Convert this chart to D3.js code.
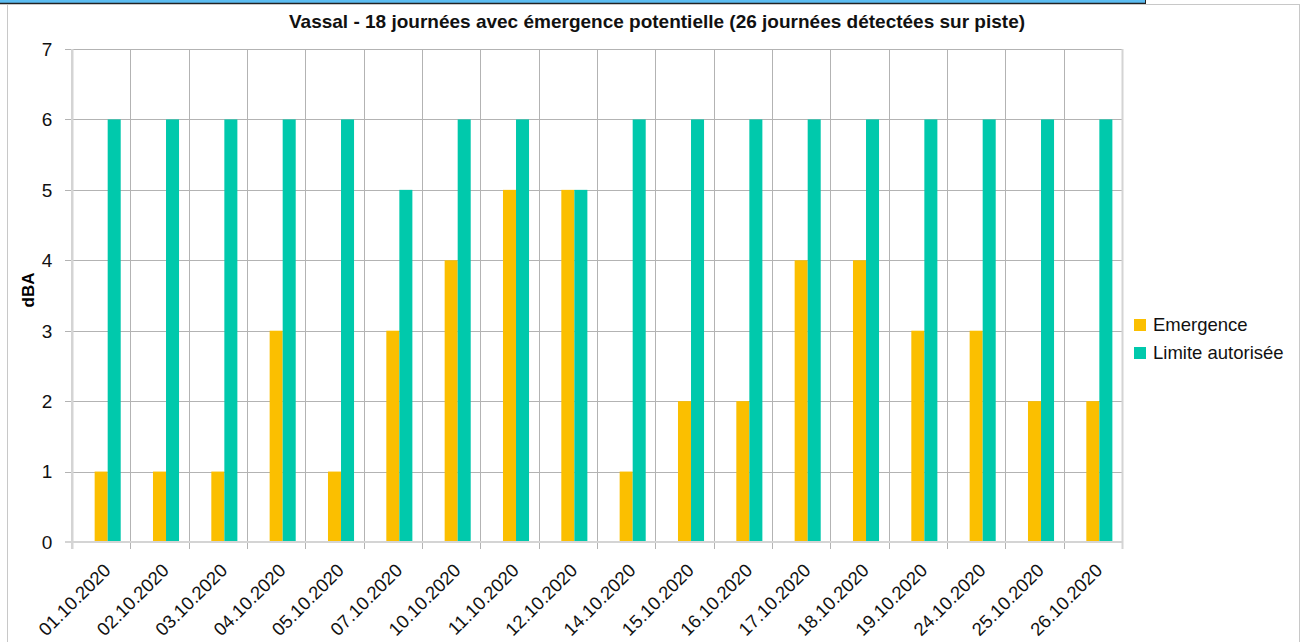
<!DOCTYPE html>
<html>
<head>
<meta charset="utf-8">
<script src="https://cdn.jsdelivr.net/npm/d3@7"></script>
<style>
  body { margin: 0; background: #fff; }
  svg { display: block; font-family: "Liberation Sans", Arial, sans-serif; }
</style>
</head>
<body>
<svg id="chart" width="1307" height="642"></svg>
<script>
// Data
const dates = ["01.10.2020", "02.10.2020", "03.10.2020", "04.10.2020", "05.10.2020", "07.10.2020",
  "10.10.2020", "11.10.2020", "12.10.2020", "14.10.2020", "15.10.2020", "16.10.2020",
  "17.10.2020", "18.10.2020", "19.10.2020", "24.10.2020", "25.10.2020", "26.10.2020"];
const emergence = [1, 1, 1, 3, 1, 3, 4, 5, 5, 1, 2, 2, 4, 4, 3, 3, 2, 2];
const limite = [6, 6, 6, 6, 6, 5, 6, 6, 5, 6, 6, 6, 6, 6, 6, 6, 6, 6];
const seriesNames = ["Emergence", "Limite autorisée"];
const seriesColors = ["#FBBF00", "#00C9AC"];
const yTicks = [0, 1, 2, 3, 4, 5, 6, 7];

const svg = d3.select("#chart");

// window chrome: blue strip on top and grey chart frame
svg.append("rect").attr("x", 0).attr("y", 0).attr("width", 1145).attr("height", 3).attr("fill", "#5CBDF2");
svg.append("line").attr("x1", 0).attr("x2", 1146).attr("y1", 3.5).attr("y2", 3.5).attr("stroke", "#222").attr("stroke-width", 1.5);
svg.append("line").attr("x1", 1145.5).attr("x2", 1145.5).attr("y1", 0).attr("y2", 4).attr("stroke", "#222");
svg.append("rect").attr("x", 7.5).attr("y", 4.5).attr("width", 1292).attr("height", 660)
  .attr("fill", "none").attr("stroke", "#c8c8c8");

const margin = { top: 49, left: 72, right: 185, bottom: 100 };
const plotW = 1122 - margin.left, plotH = 542 - margin.top;

const g = svg.append("g").attr("transform", `translate(${margin.left},${margin.top})`);

const x = d3.scaleBand().domain(dates).range([0, plotW]);
// three slots per group (the first one is empty, as in the source chart)
const bw = x.bandwidth();
const groupW = bw * 0.67;
const x1 = d3.scaleBand().domain(["", ...seriesNames]).range([(bw - groupW) / 2, (bw + groupW) / 2]);
const y = d3.scaleLinear().domain([0, 7]).range([plotH, 0]);

// horizontal gridlines
g.append("g").selectAll("line").data(yTicks.filter(d => d > 0)).join("line")
  .attr("x1", -7).attr("x2", plotW)
  .attr("y1", d => Math.round(y(d)) + 0.5).attr("y2", d => Math.round(y(d)) + 0.5)
  .attr("stroke", "#b3b3b3");

// vertical gridlines at category boundaries (also tick marks under the axis)
const bounds = dates.map(d => x(d)).concat([plotW]);
g.append("g").selectAll("line").data(bounds).join("line")
  .attr("x1", d => Math.round(d) + 0.5).attr("x2", d => Math.round(d) + 0.5)
  .attr("y1", 0).attr("y2", plotH + 7)
  .attr("stroke", (d, i) => (i === 0 || i === bounds.length - 1) ? "#d4d4d4" : "#b3b3b3")
  .attr("stroke-width", (d, i) => (i === 0 || i === bounds.length - 1) ? 2 : 1);

// bars
const seriesData = [emergence, limite];
seriesNames.forEach((name, si) => {
  g.append("g").selectAll("rect").data(dates).join("rect")
    .attr("x", d => x(d) + x1(name))
    .attr("width", x1.bandwidth())
    .attr("y", (d, i) => y(seriesData[si][i]))
    .attr("height", (d, i) => plotH - y(seriesData[si][i]))
    .attr("fill", seriesColors[si]);
});

// axis lines
g.append("line").attr("x1", -7).attr("x2", plotW + 1).attr("y1", plotH).attr("y2", plotH)
  .attr("stroke", "#d4d4d4").attr("stroke-width", 2);
g.append("line").attr("x1", 0).attr("x2", 0).attr("y1", 0).attr("y2", plotH + 7)
  .attr("stroke", "#d4d4d4").attr("stroke-width", 2);

// y tick labels
g.append("g").selectAll("text").data(yTicks).join("text")
  .attr("x", -25).attr("y", d => y(d)).attr("dy", "0.36em")
  .attr("text-anchor", "middle").attr("font-size", 19).attr("fill", "#111")
  .text(d => d);

// x tick labels, rotated
g.append("g").selectAll("text").data(dates).join("text")
  .attr("transform", d => `translate(${x(d) + bw / 2 + 6},${plotH + 25}) rotate(-45)`)
  .attr("text-anchor", "end").attr("dy", "0.35em")
  .attr("font-size", 18.5).attr("fill", "#111")
  .text(d => d);

// y axis title
svg.append("text").attr("transform", "translate(34,290) rotate(-90)")
  .attr("text-anchor", "middle").attr("font-size", 17).attr("font-weight", "bold")
  .text("dBA");

// chart title
svg.append("text").attr("x", 657).attr("y", 28)
  .attr("text-anchor", "middle").attr("font-size", 19).attr("font-weight", "bold").attr("fill", "#111")
  .text("Vassal - 18 journées avec émergence potentielle (26 journées détectées sur piste)");

// legend
const legend = svg.append("g").attr("transform", "translate(1134,319)");
seriesNames.forEach((name, i) => {
  legend.append("rect").attr("x", 0).attr("y", i * 28).attr("width", 12).attr("height", 12)
    .attr("fill", seriesColors[i]);
  legend.append("text").attr("x", 19).attr("y", i * 28 + 6).attr("dy", "0.35em")
    .attr("font-size", 18.5).attr("fill", "#111").text(name);
});
</script>
</body>
</html>
